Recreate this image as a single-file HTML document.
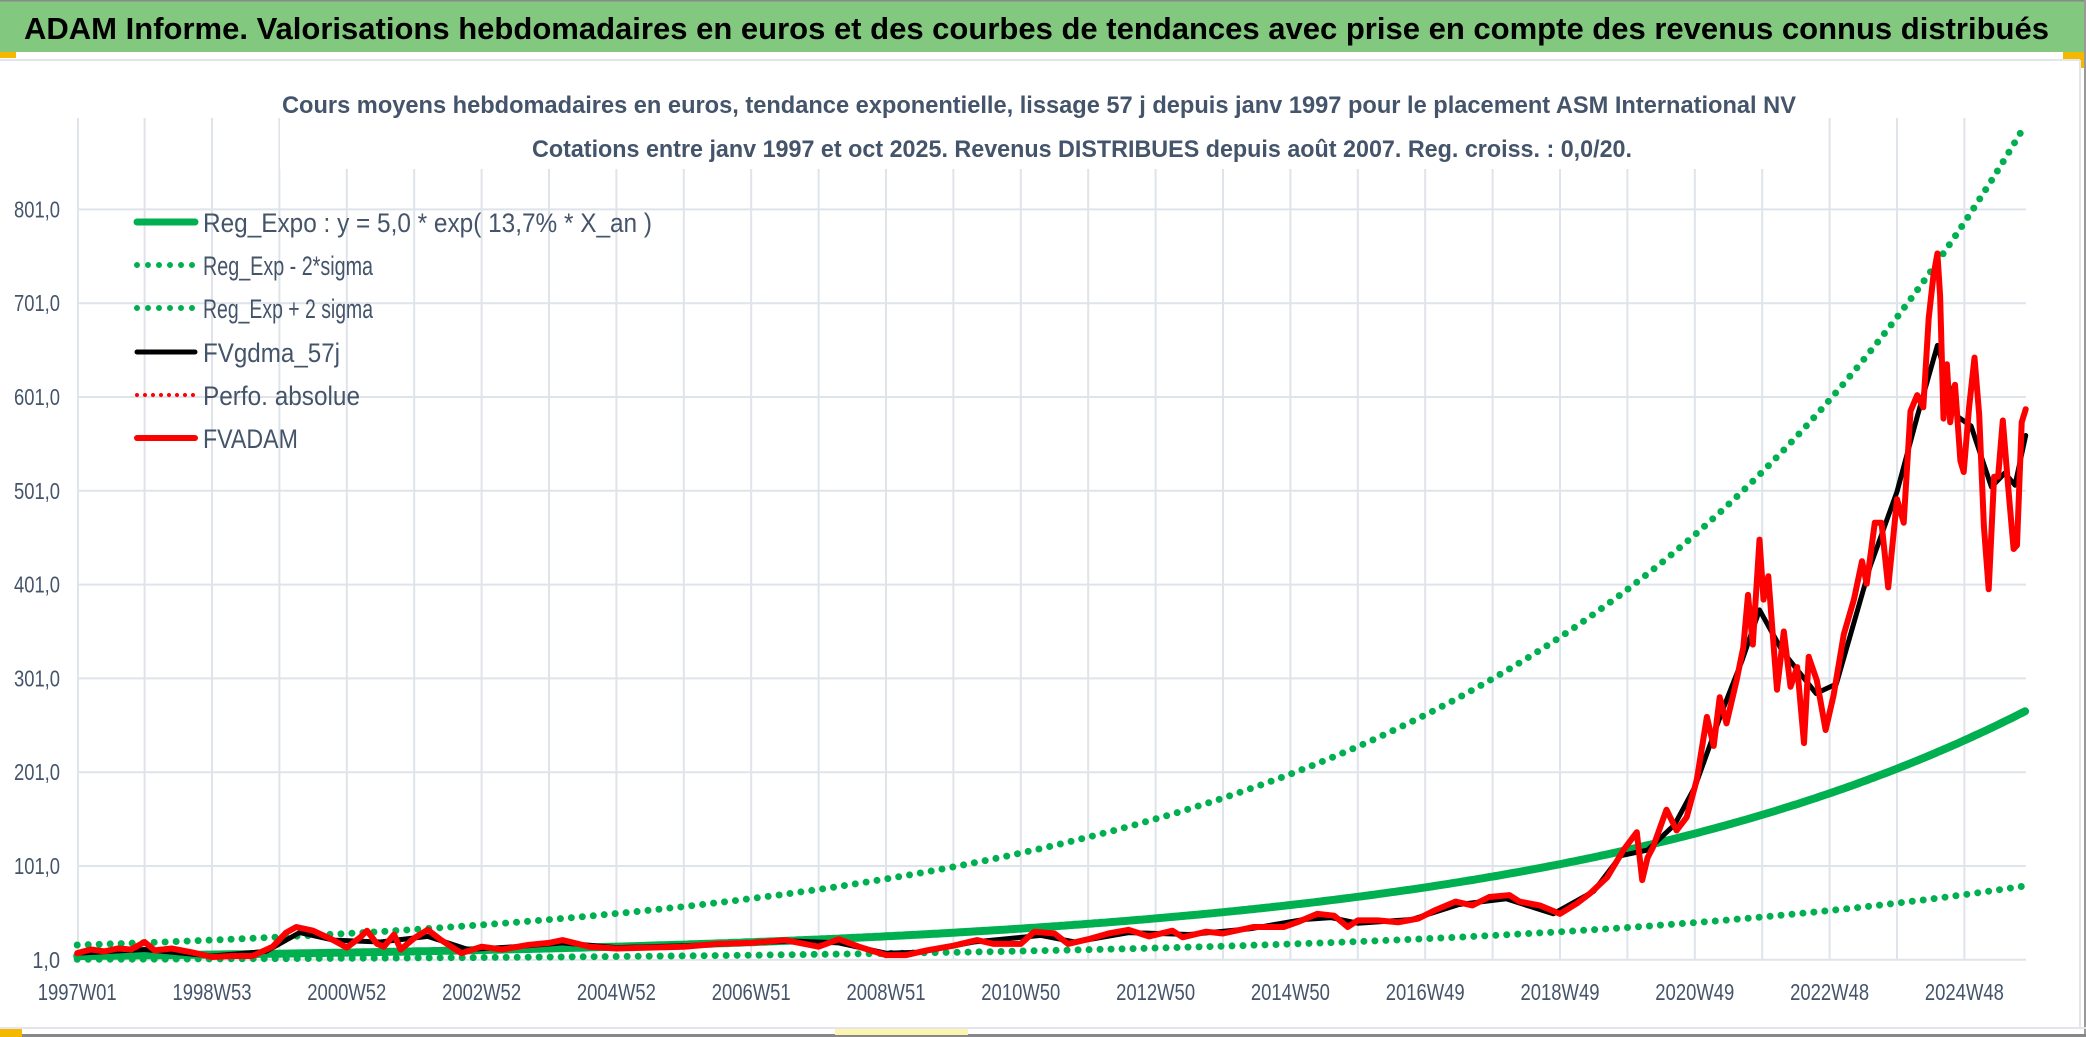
<!DOCTYPE html>
<html><head><meta charset="utf-8"><style>
html,body{margin:0;padding:0;background:#fff}
svg{display:block}
text{font-family:"Liberation Sans",sans-serif}
</style></head><body>
<svg id="chart" width="2086" height="1037" viewBox="0 0 2086 1037" xmlns="http://www.w3.org/2000/svg">
<rect x="0" y="0" width="2086" height="1037" fill="#fff"/>
<rect x="0" y="0" width="2086" height="52" fill="#82c97f"/>
<rect x="0" y="0" width="2086" height="1.5" fill="#888"/>
<rect x="0" y="52" width="16" height="6" fill="#f5b800"/>
<rect x="2063" y="52" width="22" height="7" fill="#f5b800"/>
<rect x="2079" y="52" width="6" height="16" fill="#f5b800"/>
<rect x="0" y="59" width="2080" height="2" fill="#e3e5ea"/>
<rect x="2079" y="60" width="2" height="968" fill="#e3e5ea"/>
<rect x="2084" y="0" width="2" height="1037" fill="#999"/>
<rect x="0" y="1027" width="2086" height="2" fill="#e3e5ea"/>
<rect x="0" y="1034" width="2086" height="3" fill="#888"/>
<rect x="0" y="1029" width="22" height="8" fill="#f5b800"/>
<rect x="835" y="1029" width="133" height="6" fill="#fbf5b0"/>
<text x="24" y="39" font-size="31" font-weight="bold" fill="#000" textLength="2025" lengthAdjust="spacingAndGlyphs">ADAM Informe. Valorisations hebdomadaires en euros et des courbes de tendances avec prise en compte des revenus connus distribués</text>
<g id="grid"></g>
<rect x="280" y="112" width="1520" height="57" fill="#fff"/>
<text x="282" y="113" font-size="24" font-weight="bold" fill="#44546a" textLength="1514" lengthAdjust="spacingAndGlyphs">Cours moyens hebdomadaires en euros, tendance exponentielle, lissage 57 j depuis janv 1997 pour le placement ASM International NV</text>
<text x="532" y="157" font-size="24" font-weight="bold" fill="#44546a" textLength="1100" lengthAdjust="spacingAndGlyphs">Cotations entre janv 1997 et oct 2025. Revenus DISTRIBUES depuis août 2007. Reg. croiss. : 0,0/20.</text>
<g id="axes"></g>
<g id="series"></g>
<g id="legend"></g>
</svg>
<script>
// ---- data ----
const yTicks = [1, 101, 201, 301, 401, 501, 601, 701, 801];
const yTickLabels = ["1,0","101,0","201,0","301,0","401,0","501,0","601,0","701,0","801,0"];
const xTickYears = [1997,1999,2001,2003,2005,2007,2009,2011,2013,2015,2017,2019,2021,2023,2025];
const xTickLabels = ["1997W01","1998W53","2000W52","2002W52","2004W52","2006W51","2008W51","2010W50","2012W50","2014W50","2016W49","2018W49","2020W49","2022W48","2024W48"];
const regA = 5.0;
const regB = 0.1375;
const regLowFactor = 0.30;
const regHighFactor = 3.35;
const startYear = 1997.0;
const endYear = 2025.91;
const redYears = [1997.0,1997.2,1997.4,1997.6,1997.8,1998.0,1998.15,1998.4,1998.7,1999.0,1999.3,1999.6,1999.9,2000.1,2000.25,2000.5,2000.8,2001.0,2001.2,2001.3,2001.45,2001.55,2001.7,2001.8,2002.0,2002.2,2002.4,2002.7,2003.0,2003.3,2003.7,2004.0,2004.2,2004.6,2005.0,2005.5,2006.0,2006.5,2007.0,2007.5,2008.0,2008.3,2008.6,2009.0,2009.3,2009.6,2010.0,2010.35,2010.6,2011.0,2011.2,2011.5,2011.7,2012.0,2012.3,2012.6,2012.9,2013.25,2013.4,2013.75,2014.0,2014.45,2014.9,2015.1,2015.4,2015.65,2015.85,2016.0,2016.3,2016.6,2016.9,2017.15,2017.45,2017.7,2017.95,2018.25,2018.4,2018.7,2019.0,2019.25,2019.45,2019.7,2019.94,2020.14,2020.22,2020.3,2020.38,2020.58,2020.73,2020.88,2021.03,2021.18,2021.28,2021.37,2021.47,2021.62,2021.72,2021.79,2021.86,2021.96,2022.02,2022.09,2022.22,2022.32,2022.42,2022.52,2022.62,2022.69,2022.81,2022.94,2023.06,2023.21,2023.36,2023.48,2023.55,2023.67,2023.77,2023.87,2024.0,2024.1,2024.2,2024.3,2024.39,2024.47,2024.54,2024.6,2024.64,2024.69,2024.74,2024.79,2024.86,2024.94,2024.99,2025.07,2025.15,2025.22,2025.29,2025.36,2025.44,2025.5,2025.57,2025.65,2025.73,2025.78,2025.85,2025.91];
const redValues = [8,12,10,13,12,20,11,13,9,4,5,5,15,30,36,32,22,14,25,32,18,15,28,12,24,33,22,8,15,12,17,19,22,15,13,14,15,18,19,22,15,23,15,6,6,11,16,22,18,18,31,29,18,23,29,33,26,32,25,31,29,36,36,41,50,48,36,43,43,41,45,54,63,59,68,70,63,59,50,61,72,89,118,137,86,110,121,161,139,153,193,260,229,281,253,299,334,390,337,449,385,410,289,351,292,313,232,324,299,246,283,348,385,426,402,467,467,398,492,467,586,603,590,685,730,754,709,578,636,574,614,533,521,590,643,582,463,396,516,516,576,505,439,443,574,588];
const blackYears = [1997.0,1998.0,1999.0,1999.8,2000.3,2000.8,2001.5,2002.2,2002.8,2003.5,2004.2,2005.0,2006.0,2007.0,2007.6,2008.3,2009.0,2009.5,2010.3,2011.3,2011.8,2012.6,2013.5,2014.4,2015.2,2015.6,2016.0,2016.8,2017.5,2018.2,2018.9,2019.5,2019.9,2020.3,2020.7,2021.0,2021.4,2021.7,2021.96,2022.3,2022.8,2023.1,2023.6,2024.0,2024.3,2024.6,2024.9,2025.1,2025.4,2025.6,2025.75,2025.91];
const blackValues = [8,12,5,10,30,22,20,26,12,15,19,14,16,19,21,19,8,9,20,27,20,30,28,34,44,46,40,44,60,66,50,74,112,118,145,185,265,320,374,330,285,295,420,500,580,656,580,570,505,520,507,560];

// ---- scales ----
const NS = "http://www.w3.org/2000/svg";
function xs(yr){ return 1560 + 67.4*(yr-2019); }
function ys(v){ return 866 - (v-101)*0.938; }
function mk(tag, attrs, parent){
  const e = document.createElementNS(NS, tag);
  for (const k in attrs) e.setAttribute(k, attrs[k]);
  parent.appendChild(e); return e;
}
const grid = document.getElementById('grid');
const axes = document.getElementById('axes');
const series = document.getElementById('series');
const legend = document.getElementById('legend');
const plotRight = 2026;

for (let yr = 1998; yr <= 2025; yr++) {
  const l = mk('line', {x1:xs(yr), x2:xs(yr), y1:118, y2:960, stroke:'#dfe3ea', 'stroke-width':2}, grid);
  
  
}
yTicks.forEach((v, i) => {
  const l = mk('line', {x1:78, x2:plotRight, y1:ys(v), y2:ys(v), stroke:'#dfe3ea', 'stroke-width':2}, grid);
  
  
  const s = yTickLabels[i];
  const t = mk('text', {x:60, y:ys(v)+8, 'font-size':23, fill:'#44546a', 'text-anchor':'end', textLength: s.length*9.2, lengthAdjust:'spacingAndGlyphs'}, axes);
  t.textContent = s;
  
  
});
const ax = mk('line', {x1:78, x2:78, y1:118, y2:962, stroke:'#dfe3ea', 'stroke-width':2}, grid);


xTickYears.forEach((yr, i) => {
  const t = mk('text', {x:xs(yr), y:1000, 'font-size':23, fill:'#44546a', 'text-anchor':'middle', textLength:79, lengthAdjust:'spacingAndGlyphs'}, axes);
  t.textContent = xTickLabels[i];
  
  
});

function regPath(factor){
  let d = '';
  for (let yr = startYear; yr <= endYear + 1e-9; yr += 0.05) {
    const v = factor*regA*Math.exp(regB*(yr-startYear));
    d += (d ? 'L' : 'M') + xs(yr).toFixed(1) + ',' + ys(v).toFixed(1);
  }
  return d;
}
function linePath(xsArr, vals){
  return vals.map((v,i)=>(i?'L':'M')+xs(xsArr[i]).toFixed(1)+','+ys(v).toFixed(1)).join('');
}
const low = mk('path', {d:regPath(regLowFactor), fill:'none', stroke:'#00b050', 'stroke-width':7, 'stroke-linecap':'round', 'stroke-dasharray':'0 11'}, series);


const high = mk('path', {d:regPath(regHighFactor), fill:'none', stroke:'#00b050', 'stroke-width':7, 'stroke-linecap':'round', 'stroke-dasharray':'0 11'}, series);


const reg = mk('path', {d:regPath(1), fill:'none', stroke:'#00b050', 'stroke-width':8, 'stroke-linecap':'round'}, series);


const blk = mk('path', {d:linePath(blackYears, blackValues), fill:'none', stroke:'#000', 'stroke-width':5, 'stroke-linejoin':'round', 'stroke-linecap':'round'}, series);


const red = mk('path', {d:linePath(redYears, redValues), fill:'none', stroke:'#ff0000', 'stroke-width':6, 'stroke-linejoin':'round', 'stroke-linecap':'round'}, series);



const legItems = [
  {label:'Reg_Expo : y = 5,0 * exp( 13,7% *  X_an )', w:449, color:'#00b050', dash:null, sw:7},
  {label:'Reg_Exp - 2*sigma', w:170, color:'#00b050', dash:'0 11', sw:6},
  {label:'Reg_Exp + 2 sigma', w:170, color:'#00b050', dash:'0 11', sw:6},
  {label:'FVgdma_57j', w:137, color:'#000', dash:null, sw:5},
  {label:'Perfo. absolue', w:157, color:'#ff0000', dash:'0 8', sw:4},
  {label:'FVADAM', w:95, color:'#ff0000', dash:null, sw:6}
];
const legY = [222, 265, 308, 352, 395, 438];
legItems.forEach((it, i) => {
  const a = {x1:137, x2:195, y1:legY[i], y2:legY[i], stroke:it.color, 'stroke-width':it.sw, 'stroke-linecap':'round'};
  if (it.dash) a['stroke-dasharray'] = it.dash;
  const l = mk('line', a, legend);
  
  
  const t = mk('text', {x:203, y:legY[i]+10, 'font-size':27, fill:'#44546a', textLength:it.w, lengthAdjust:'spacingAndGlyphs'}, legend);
  t.textContent = it.label;
  
  
});
</script>
</body></html>
